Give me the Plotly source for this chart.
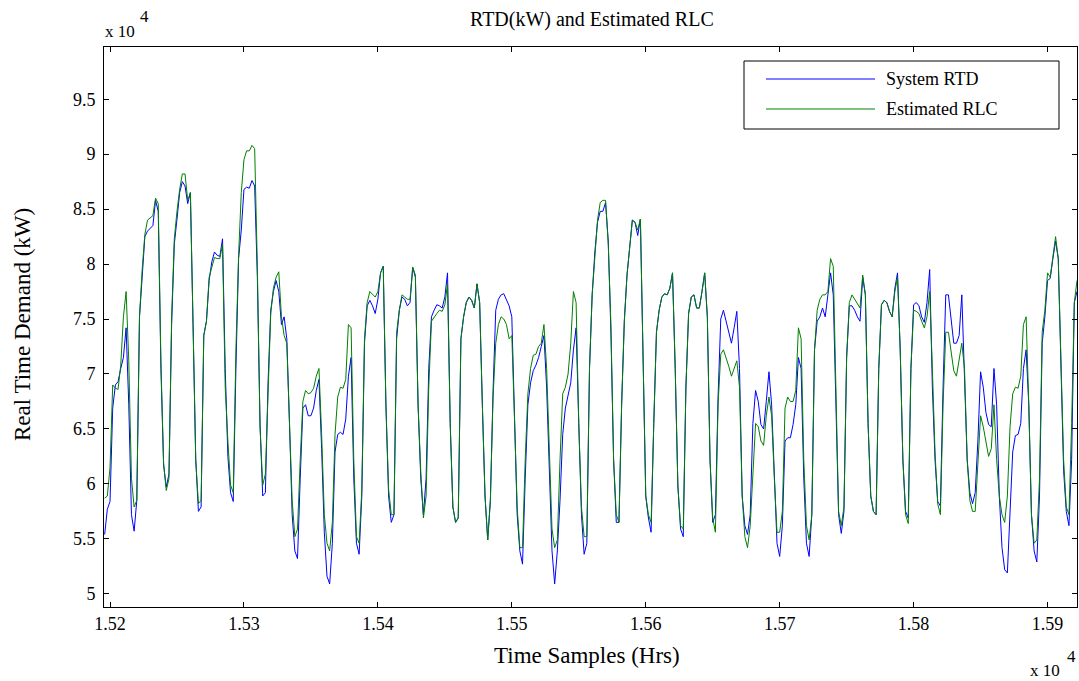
import plotly.graph_objects as go

# Time axis: hourly samples read every 2 hours (hours)
start_hour = 15196
step_hours = 2

# System RTD (x 10^4 kW)
rtd = [5.54, 5.77, 5.84, 6.69, 6.90, 6.93, 7.05, 7.15, 7.42, 6.72, 5.72, 5.57, 5.85, 7.52, 7.88, 8.25,
       8.30, 8.33, 8.35, 8.58, 8.48, 7.05, 6.17, 5.97, 6.09, 7.45, 8.18, 8.41, 8.65, 8.75, 8.71, 8.55,
       8.65, 7.45, 6.22, 5.75, 5.79, 7.35, 7.48, 7.85, 8.02, 8.11, 8.08, 8.07, 8.23, 7.05, 6.25, 5.92,
       5.84, 7.05, 8.05, 8.31, 8.68, 8.70, 8.69, 8.76, 8.71, 7.88, 6.55, 5.89, 5.92, 6.92,
       7.58, 7.75, 7.85, 7.75, 7.45, 7.52, 7.32, 6.55, 5.72, 5.39, 5.32, 6.05, 6.69, 6.72, 6.62, 6.62,
       6.69, 6.85, 6.95, 6.32, 5.56, 5.16, 5.09, 5.46, 6.29, 6.45, 6.47, 6.45, 6.59, 6.98, 7.15, 6.05,
       5.46, 5.36, 5.89, 7.28, 7.62, 7.67, 7.62, 7.55, 7.68, 7.92, 7.98, 6.72, 5.89, 5.65, 5.72, 7.32,
       7.58, 7.70, 7.68, 7.62, 7.65, 7.97, 7.88, 6.72, 6.05, 5.72, 6.05, 7.05, 7.52, 7.58, 7.63,
       7.62, 7.60, 7.70, 7.92, 6.55, 5.79, 5.65, 5.69, 7.32, 7.52, 7.65, 7.70, 7.67, 7.60, 7.82, 7.65,
       6.72, 5.89, 5.49, 5.85, 6.85, 7.58, 7.68, 7.72, 7.73, 7.68, 7.62, 7.52, 6.55, 5.72, 5.39, 5.27,
       6.05, 6.72, 6.92, 7.03, 7.08, 7.15, 7.25, 7.35, 6.88, 6.05, 5.39, 5.09, 5.39, 5.85, 6.45, 6.69,
       6.82, 6.92, 7.22, 7.42, 6.55, 5.72, 5.36, 5.46, 7.05, 7.72, 8.11, 8.38, 8.48, 8.48, 8.56, 8.21,
       7.38, 6.22, 5.65, 5.65, 6.72, 7.48, 7.90, 8.18, 8.40, 8.38, 8.26, 8.41, 7.22, 5.89, 5.69, 5.56,
       6.55, 7.38, 7.58, 7.70, 7.73, 7.72, 7.78, 7.92, 7.05, 5.98, 5.59, 5.52, 6.88, 7.55, 7.70, 7.72,
       7.60, 7.60, 7.75, 7.92, 7.52, 6.22, 5.65, 5.72, 6.79, 7.50, 7.58, 7.48, 7.38, 7.28, 7.42, 7.57,
       7.05, 5.89, 5.62, 5.54, 5.72, 6.55, 6.85, 6.75, 6.54, 6.50, 6.75, 7.02, 6.72, 6.05, 5.46,
       5.34, 5.62, 6.39, 6.42, 6.42, 6.54, 6.72, 7.15, 7.05, 6.05, 5.46, 5.34, 5.72, 7.22, 7.48, 7.52,
       7.60, 7.52, 7.72, 7.92, 7.72, 6.72, 5.72, 5.55, 5.75, 7.15, 7.62, 7.62, 7.58, 7.52, 7.48, 7.88,
       7.72, 6.55, 5.89, 5.75, 5.72, 7.05, 7.63, 7.67, 7.65, 7.57, 7.52, 7.78, 7.92, 7.22, 6.22, 5.75,
       5.69, 7.05, 7.63, 7.65, 7.62, 7.52, 7.47, 7.65, 7.95, 6.88, 6.22, 5.84, 5.80, 6.88, 7.72, 7.72,
       7.52, 7.28, 7.28, 7.35, 7.72, 7.05, 6.22, 5.92, 5.82, 5.92, 6.39, 7.02, 6.88, 6.65, 6.54, 6.52,
       7.05, 6.72, 5.89, 5.42, 5.22, 5.19, 5.79, 6.29, 6.44, 6.45, 6.55, 7.05, 7.22, 6.72, 5.72, 5.39,
       5.29, 5.89, 7.28, 7.52, 7.85, 7.87, 8.05, 8.21, 8.05, 7.05, 6.12, 5.75, 5.62, 6.22, 7.65, 7.75]

# Estimated RLC (x 10^4 kW)
rlc = [5.87, 5.89, 6.15, 6.90, 6.87, 6.86, 7.08, 7.52, 7.75, 7.12, 6.05, 5.79, 5.85, 7.52, 7.95, 8.27,
       8.40, 8.42, 8.44, 8.60, 8.55, 7.12, 6.19, 5.94, 6.05, 7.52, 8.23, 8.48, 8.68, 8.82, 8.82, 8.58,
       8.65, 7.45, 6.22, 5.82, 5.85, 7.35, 7.48, 7.88, 7.98, 8.06, 8.05, 8.05, 8.18, 6.88, 6.39, 5.99,
       5.92, 7.22, 8.08, 8.65, 8.95, 9.03, 9.03, 9.08, 9.05, 7.98, 6.52, 5.99, 6.09, 6.85,
       7.55, 7.78, 7.88, 7.93, 7.52, 7.35, 7.28, 6.55, 5.85, 5.52, 5.59, 6.22, 6.75, 6.85, 6.82, 6.83,
       6.87, 6.98, 7.05, 6.45, 5.72, 5.46, 5.39, 5.65, 6.45, 6.79, 6.88, 6.87, 6.95, 7.45, 7.42, 6.22,
       5.52, 5.46, 5.95, 7.32, 7.65, 7.75, 7.72, 7.70, 7.75, 7.92, 7.98, 6.72, 5.95, 5.72, 5.72, 7.38,
       7.58, 7.72, 7.70, 7.68, 7.68, 7.97, 7.90, 6.72, 6.12, 5.69, 5.89, 6.88, 7.48, 7.52, 7.55,
       7.58, 7.57, 7.63, 7.82, 6.55, 5.79, 5.65, 5.69, 7.32, 7.52, 7.65, 7.70, 7.67, 7.60, 7.82, 7.65,
       6.72, 5.89, 5.49, 5.85, 6.79, 7.28, 7.45, 7.52, 7.50, 7.45, 7.32, 7.35, 6.59, 5.79, 5.42, 5.42,
       6.22, 6.82, 7.05, 7.17, 7.18, 7.25, 7.28, 7.45, 7.05, 6.22, 5.59, 5.42, 5.49, 6.22, 6.82, 6.88,
       7.00, 7.28, 7.75, 7.65, 6.55, 5.79, 5.52, 5.52, 7.05, 7.72, 8.11, 8.40, 8.56, 8.58, 8.58, 8.18,
       7.45, 6.22, 5.72, 5.65, 6.72, 7.48, 7.90, 8.18, 8.40, 8.38, 8.31, 8.41, 7.22, 5.89, 5.72, 5.65,
       6.55, 7.38, 7.58, 7.70, 7.73, 7.72, 7.78, 7.92, 7.05, 5.98, 5.62, 5.59, 6.88, 7.55, 7.70, 7.72,
       7.60, 7.60, 7.75, 7.92, 7.52, 6.22, 5.69, 5.56, 6.72, 7.18, 7.22, 7.15, 7.07, 6.98, 7.05, 7.12,
       6.88, 5.89, 5.52, 5.42, 5.62, 6.15, 6.55, 6.52, 6.39, 6.35, 6.62, 6.79, 6.62, 6.05, 5.56,
       5.56, 5.75, 6.69, 6.79, 6.75, 6.75, 6.85, 7.42, 7.32, 6.22, 5.62, 5.49, 5.72, 7.22, 7.58, 7.68,
       7.72, 7.72, 7.75, 8.05, 7.98, 6.72, 5.75, 5.62, 5.79, 7.15, 7.65, 7.72, 7.68, 7.63, 7.60, 7.90,
       7.72, 6.55, 5.89, 5.75, 5.72, 7.05, 7.63, 7.67, 7.65, 7.57, 7.52, 7.75, 7.88, 7.22, 6.22, 5.72,
       5.64, 7.05, 7.58, 7.57, 7.55, 7.48, 7.42, 7.52, 7.75, 7.05, 6.29, 5.82, 5.72, 6.72, 7.38, 7.38,
       7.22, 7.03, 6.98, 7.15, 7.28, 7.05, 6.22, 5.85, 5.75, 5.75, 6.22, 6.62, 6.52, 6.39, 6.25, 6.32,
       6.72, 6.22, 5.89, 5.72, 5.65, 5.89, 6.52, 6.82, 6.88, 6.87, 6.98, 7.45, 7.52, 6.72, 5.72, 5.46,
       5.49, 6.05, 7.38, 7.58, 7.92, 7.88, 8.08, 8.25, 8.05, 7.05, 6.22, 5.79, 5.72, 6.55, 7.65, 7.85]

x_tick_vals = [1.52, 1.53, 1.54, 1.55, 1.56, 1.57, 1.58, 1.59]
x_tick_text = ["1.52", "1.53", "1.54", "1.55", "1.56", "1.57", "1.58", "1.59"]
y_tick_vals = [5, 5.5, 6, 6.5, 7, 7.5, 8, 8.5, 9, 9.5]
y_tick_text = ["5", "5.5", "6", "6.5", "7", "7.5", "8", "8.5", "9", "9.5"]

hours = [start_hour + step_hours * i for i in range(len(rtd))]
x_vals = [h / 1e4 for h in hours]

FONT = "Liberation Serif, Times New Roman, serif"

fig = go.Figure()
fig.add_trace(go.Scatter(x=x_vals, y=rtd, mode="lines", name="System RTD",
                         line=dict(color="#0000FF", width=1), showlegend=False))
fig.add_trace(go.Scatter(x=x_vals[:len(rlc)], y=rlc, mode="lines", name="Estimated RLC",
                         line=dict(color="#008000", width=1), showlegend=False))

axis_common = dict(showline=True, linecolor="black", linewidth=1, mirror="ticks",
                   ticks="inside", ticklen=5, tickcolor="black", tickwidth=1,
                   showgrid=False, zeroline=False,
                   tickfont=dict(family=FONT, size=18, color="black"))

fig.update_xaxes(range=[1.51955, 1.5922], tickvals=x_tick_vals, ticktext=x_tick_text, **axis_common)
fig.update_yaxes(range=[4.88, 9.975], tickvals=y_tick_vals, ticktext=y_tick_text,
                 ticklabelstandoff=4, **axis_common)

W, H = 1079, 681
L, R, T, B = 104, 2, 47, 74
pw, ph = W - L - R, H - T - B

def px(xp):
    return (xp - L) / pw

def py(yp):
    return 1 - (yp - T) / ph

def note(text, x, y, size, xanchor="center", angle=0):
    return dict(text=text, x=px(x), y=py(y), xref="paper", yref="paper",
                xanchor=xanchor, yanchor="middle", textangle=angle, showarrow=False,
                font=dict(family=FONT, size=size, color="black"))

annotations = [
    note("RTD(kW) and Estimated RLC", 592, 20, 20),
    note("Time Samples (Hrs)", 587, 655, 23),
    note("Real Time Demand (kW)", 22, 325, 23, angle=-90),
    note("x 10", 103, 31, 17, xanchor="left"),
    note("4", 138, 17, 17, xanchor="left"),
    note("x 10", 1028, 670, 17, xanchor="left"),
    note("4", 1065, 656, 17, xanchor="left"),
    note("System RTD", 884, 79, 18, xanchor="left"),
    note("Estimated RLC", 884, 109, 18, xanchor="left"),
]

shapes = [
    dict(type="rect", xref="paper", yref="paper", x0=px(744), x1=px(1059), y0=py(129), y1=py(61),
         line=dict(color="black", width=1), fillcolor="white", layer="above"),
    dict(type="line", xref="paper", yref="paper", x0=px(766), x1=px(875), y0=py(79), y1=py(79),
         line=dict(color="#0000FF", width=1), layer="above"),
    dict(type="line", xref="paper", yref="paper", x0=px(766), x1=px(875), y0=py(109), y1=py(109),
         line=dict(color="#008000", width=1), layer="above"),
]

fig.update_layout(width=W, height=H, margin=dict(l=L, r=R, t=T, b=B),
                  paper_bgcolor="white", plot_bgcolor="white",
                  annotations=annotations, shapes=shapes,
                  font=dict(family=FONT, color="black"))

fig.write_html("out.html")
